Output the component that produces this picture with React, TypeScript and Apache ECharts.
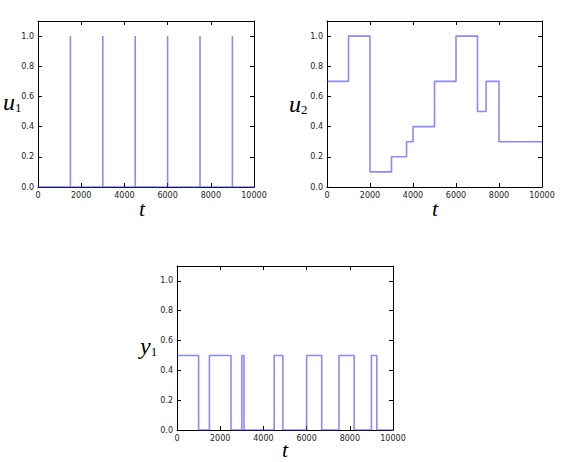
import React, { useEffect, useRef } from "react";
import * as echarts from "echarts";

// Panel 1: impulses of u1
const u1SpikeTimes = [1500, 3000, 4500, 6000, 7500, 9000];
const u1SpikeValue = 1.0;
// Panel 2: piecewise-constant u2 (value holds from time until next time)
const u2Times = [0, 1000, 2000, 3000, 3700, 4000, 5000, 6000, 7000, 7400, 8000, 10000];
const u2Values = [0.7, 1.0, 0.1, 0.2, 0.3, 0.4, 0.7, 1.0, 0.5, 0.7, 0.3, 0.3];
// Panel 3: piecewise-constant y1
const y1Times = [0, 1000, 1500, 2500, 3000, 3100, 4500, 4900, 6000, 6700, 7500, 8200, 9000, 9250, 10000];
const y1Values = [0.5, 0.0, 0.5, 0.0, 0.5, 0.0, 0.5, 0.0, 0.5, 0.0, 0.5, 0.0, 0.5, 0.0, 0.0];

const xTicks = [0, 2000, 4000, 6000, 8000, 10000];
const yTicks = [0.0, 0.2, 0.4, 0.6, 0.8, 1.0];

const LINE = "rgba(60,60,255,0.6)";

export default function App() {
  const ref = useRef<HTMLDivElement>(null);
  useEffect(() => {
    if (!ref.current) return;
    const chart = echarts.init(ref.current, null, { renderer: "svg" });

    const u1Data: number[][] = [[0, 0]];
    u1SpikeTimes.forEach((t) => {
      u1Data.push([t, 0], [t, u1SpikeValue], [t, 0]);
    });
    u1Data.push([10000, 0]);
    const u2Data = u2Times.map((t, i) => [t, u2Values[i]]);
    const y1Data = y1Times.map((t, i) => [t, y1Values[i]]);

    const grids = [
      { left: 38, top: 21, width: 216, height: 166 },
      { left: 327, top: 21, width: 215, height: 166 },
      { left: 177, top: 266, width: 216, height: 164 },
    ];

    const tickCommon = { show: true, inside: true, length: 4, lineStyle: { color: "#000" } };
    const lineCommon = { show: true, onZero: false, lineStyle: { color: "#000", width: 1 } };

    const xAxes: any[] = [];
    const yAxes: any[] = [];
    grids.forEach((_, gi) => {
      xAxes.push({
        type: "value",
        gridIndex: gi,
        min: xTicks[0],
        max: xTicks[xTicks.length - 1],
        interval: 2000,
        position: "bottom",
        axisLine: lineCommon,
        axisTick: tickCommon,
        axisLabel: {
          color: "#222",
          fontSize: 8,
          fontFamily: "DejaVu Sans",
          margin: 4,
          formatter: (v: number) => String(Math.round(v)),
        },
        splitLine: { show: false },
      });
      xAxes.push({
        type: "value",
        gridIndex: gi,
        min: 0,
        max: 10000,
        interval: 2000,
        position: "top",
        axisLine: lineCommon,
        axisTick: tickCommon,
        axisLabel: { show: false },
        splitLine: { show: false },
      });
      yAxes.push({
        type: "value",
        gridIndex: gi,
        min: 0,
        max: 1.1,
        interval: 0.2,
        position: "left",
        axisLine: lineCommon,
        axisTick: tickCommon,
        axisLabel: {
          color: "#222",
          fontSize: 8,
          fontFamily: "DejaVu Sans",
          margin: 4,
          formatter: (v: number) => (v > yTicks[yTicks.length - 1] + 0.05 ? "" : v.toFixed(1)),
        },
        splitLine: { show: false },
      });
      yAxes.push({
        type: "value",
        gridIndex: gi,
        min: 0,
        max: 1.1,
        interval: 0.2,
        position: "right",
        axisLine: lineCommon,
        axisTick: tickCommon,
        axisLabel: { show: false },
        splitLine: { show: false },
      });
    });

    const varLabel = (text: string, sub: string, x: number, y: number) => ({
      type: "text",
      left: x,
      top: y,
      style: {
        text: `{m|${text}}{s|${sub}}`,
        rich: {
          m: { fontFamily: "Liberation Serif", fontStyle: "italic", fontSize: 24, fill: "#000" },
          s: { fontFamily: "Liberation Serif", fontSize: 13, fill: "#000", padding: [10, 0, 0, 0] },
        },
      },
    });

    const tLabel = (x: number, y: number) => ({
      type: "text",
      left: x,
      top: y,
      style: {
        text: "t",
        fontFamily: "Liberation Serif",
        fontStyle: "italic",
        fontSize: 22,
        lineHeight: 22,
        fill: "#000",
      },
    });

    chart.setOption({
      animation: false,
      backgroundColor: "#fff",
      grid: grids,
      xAxis: xAxes,
      yAxis: yAxes,
      series: [
        {
          type: "line",
          xAxisIndex: 0,
          yAxisIndex: 0,
          data: u1Data,
          showSymbol: false,
          lineStyle: { color: LINE, width: 1.6 },
        },
        {
          type: "line",
          xAxisIndex: 2,
          yAxisIndex: 2,
          data: u2Data,
          step: "end",
          showSymbol: false,
          lineStyle: { color: LINE, width: 1.6 },
        },
        {
          type: "line",
          xAxisIndex: 4,
          yAxisIndex: 4,
          data: y1Data,
          step: "end",
          showSymbol: false,
          lineStyle: { color: LINE, width: 1.6 },
        },
      ],
      graphic: [
        varLabel("u", "1", 3, 90),
        varLabel("u", "2", 289, 92),
        varLabel("y", "1", 140, 334),
        tLabel(139, 197),
        tLabel(432, 197),
        tLabel(282, 438),
      ],
    });
    return () => chart.dispose();
  }, []);
  return (
    <div
      ref={ref}
      style={{ position: "absolute", left: 0, top: 0, width: 570, height: 462, background: "#fff" }}
    />
  );
}
